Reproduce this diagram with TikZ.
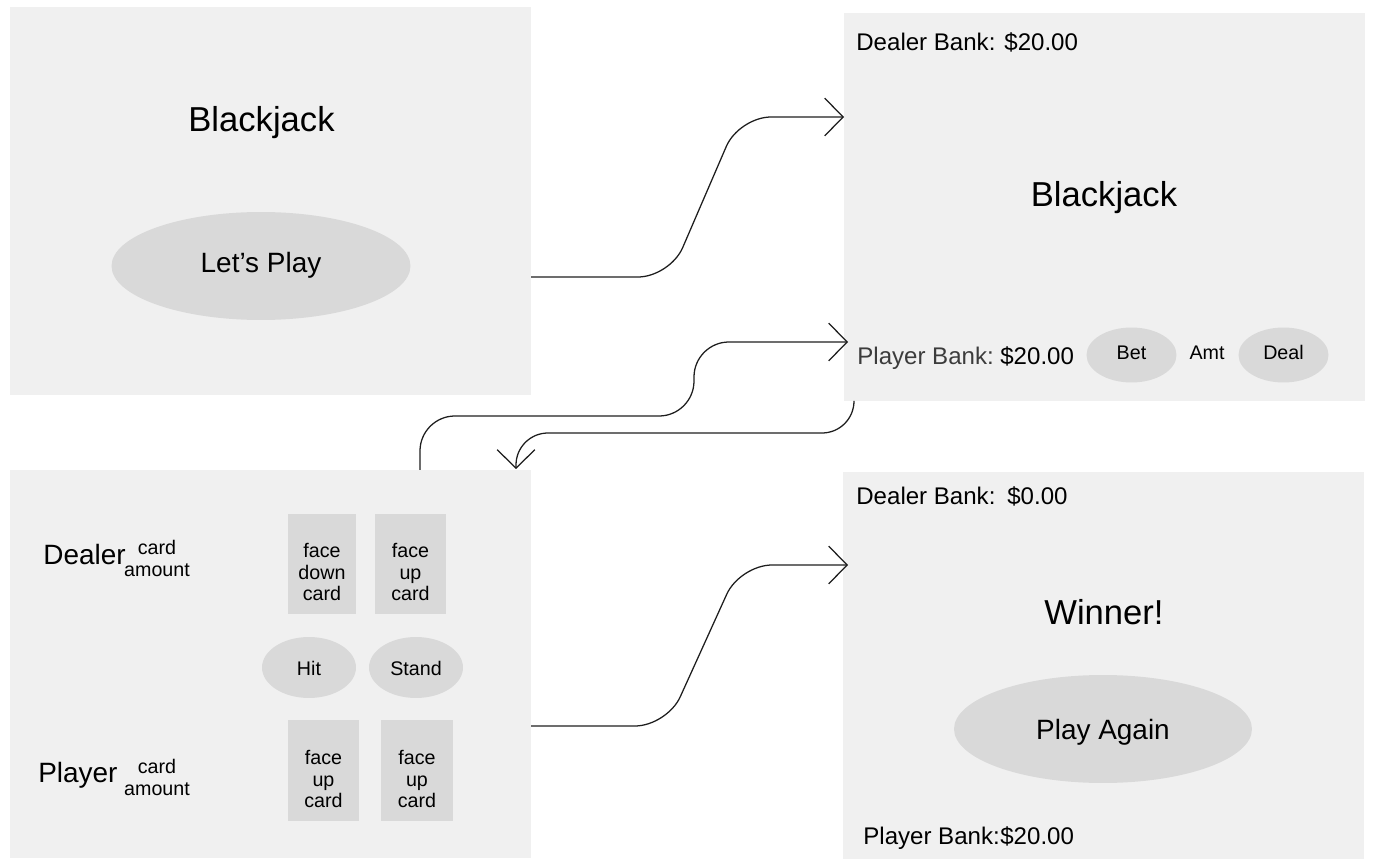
\documentclass[tikz,border=0pt]{standalone}
\usepackage{fontspec}
\setmainfont{Liberation Sans}
\usetikzlibrary{shapes.geometric,arrows.meta}
\definecolor{panelc}{HTML}{F0F0F0}
\definecolor{btnc}{HTML}{D9D9D9}
\definecolor{grayt}{HTML}{3C3C3C}
\definecolor{linec}{HTML}{1E1E1E}
\tikzset{
  panel/.style={rectangle,fill=panelc,inner sep=0pt,minimum width=10.42cm,minimum height=7.76cm},
  btn/.style={ellipse,fill=btnc,inner sep=0pt},
  cardbox/.style={rectangle,fill=btnc,inner sep=0pt},
  bigt/.style={font=\fontsize{19.7}{24}\selectfont,inner sep=0pt},
  midt/.style={font=\fontsize{15.9}{19}\selectfont,inner sep=0pt},
  bankt/.style={font=\fontsize{13.7}{16}\selectfont,inner sep=0pt},
  smallt/.style={font=\fontsize{11.2}{12.2}\selectfont,inner sep=0pt},
  cardt/.style={font=\fontsize{11.2}{12.2}\selectfont,inner sep=0pt,align=center},
  flow/.style={draw=linec,line width=0.72pt,-{Straight Barb[length=10.5pt,width=21.5pt,line width=0.72pt]}}
}
\begin{document}
\begin{tikzpicture}[x=0.02cm,y=-0.02cm]
\useasboundingbox (0,0) rectangle (1374,868);
% panels
\node[panel] (pA) at (270.5,201) {};
\node[panel] (pB) at (1104.5,207) {};
\node[panel] (pC) at (270.5,664) {};
\node[panel] (pD) at (1103.5,665.5) {};
% panel A
\node[bigt,anchor=base] (tA) at (261.5,132) {Blackjack};
\node[btn,minimum width=5.98cm,minimum height=2.16cm] (letsplay) at (261,266) {};
\node[midt,anchor=base] (tLP) at (261,273) {Let’s Play};
% panel B
\node[bankt,anchor=base west] (dbB) at (856,50.5) {Dealer Bank: \$20.00};
\node[bigt,anchor=base] (tB) at (1104,207) {Blackjack};
\node[bankt,anchor=base west,text=grayt] (pbB) at (857,365) {Player Bank:};
\node[bankt,anchor=base west] (pbBv) at (1000,365) {\$20.00};
\node[btn,minimum width=1.8cm,minimum height=1.1cm] (bet) at (1131.5,355) {};
\node[smallt,anchor=base] (tbet) at (1131.5,360) {Bet};
\node[smallt,anchor=base] (tamt) at (1207,360) {Amt};
\node[btn,minimum width=1.8cm,minimum height=1.1cm] (deal) at (1283.5,355) {};
\node[smallt,anchor=base] (tdeal) at (1283.5,360) {Deal};
% panel C
\node[midt,anchor=base west] (tdealer) at (43,564) {Dealer};
\node[smallt,anchor=base] (dcard) at (157,555) {card};
\node[smallt,anchor=base] (damt) at (157,577) {amount};
\node[midt,anchor=base west] (tplayer) at (38,782) {Player};
\node[smallt,anchor=base] (pcard) at (157,773) {card};
\node[smallt,anchor=base] (pamt) at (157,795) {amount};
\node[cardbox,minimum width=1.36cm,minimum height=2cm] (c1) at (322,564) {};
\node[cardbox,minimum width=1.42cm,minimum height=2cm] (c2) at (410.5,564) {};
\node[cardbox,minimum width=1.42cm,minimum height=2.02cm] (c3) at (323.5,770.5) {};
\node[cardbox,minimum width=1.44cm,minimum height=2.02cm] (c4) at (417,770.5) {};
\node[cardt] (tc1) at (322,572) {face\\down\\card};
\node[cardt] (tc2) at (410.5,572) {face\\up\\card};
\node[cardt] (tc3) at (323.5,779) {face\\up\\card};
\node[cardt] (tc4) at (417,779) {face\\up\\card};
\node[btn,minimum width=1.88cm,minimum height=1.22cm] (hit) at (309,667.5) {};
\node[smallt,anchor=base] (thit) at (309,675) {Hit};
\node[btn,minimum width=1.88cm,minimum height=1.22cm] (stand) at (416,667.5) {};
\node[smallt,anchor=base] (tstand) at (416,675) {Stand};
% panel D
\node[bankt,anchor=base west] (dbD) at (856,504) {Dealer Bank:};
\node[bankt,anchor=base west] (dbDv) at (1007,504) {\$0.00};
\node[bigt,anchor=base] (tW) at (1104,624) {Winner!};
\node[btn,minimum width=5.96cm,minimum height=2.16cm] (again) at (1103,729) {};
\node[midt,anchor=base] (tagain) at (1103,739) {Play Again};
\node[bankt,anchor=base west] (pbD) at (863,844) {Player Bank:};
\node[bankt,anchor=base west] (pbDv) at (1000,844) {\$20.00};
% connector end points
\coordinate (a1s) at (531,277);
\coordinate (a1e) at (844,117);
\coordinate (a2s) at (420,470);
\coordinate (a2e) at (848,342);
\coordinate (a3s) at (854,401);
\coordinate (a3e) at (516,469);
\coordinate (a4s) at (531,726);
\coordinate (a4e) at (848,565);
% connectors
\draw[flow,rounded corners=0.64cm] (a1s) -- (670,277) -- (739,117) -- (a1e);
\draw[flow,rounded corners=0.64cm] (a4s) -- (667,726) -- (740,565) -- (a4e);
\draw[flow,rounded corners=0.7cm] (a2s) -- (420,416) -- (694,416) -- (694,342) -- (a2e);
\draw[flow,rounded corners=0.64cm] (a3s) -- (854,433) -- (516,433) -- (a3e);
\end{tikzpicture}
\end{document}
